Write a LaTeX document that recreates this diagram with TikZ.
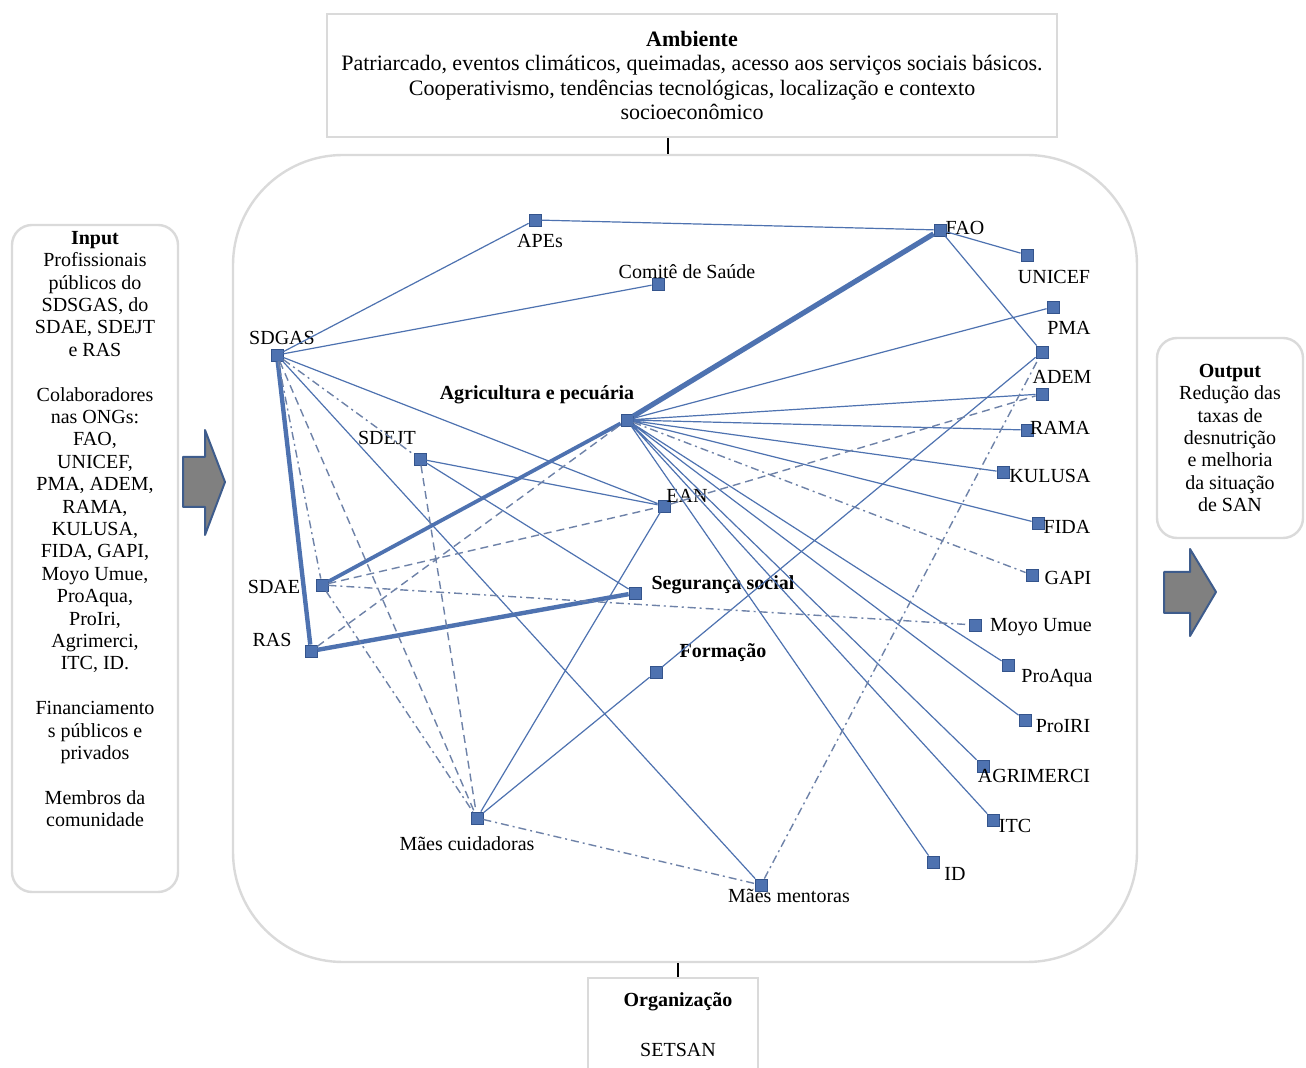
\documentclass[tikz,border=0pt]{standalone}
\usepackage{fontspec}
\setmainfont{Liberation Serif}
\definecolor{netblue}{RGB}{78,114,176}
\definecolor{netdark}{RGB}{52,84,140}
\definecolor{netgray}{RGB}{110,130,168}
\definecolor{boxgray}{RGB}{218,218,218}
\definecolor{arrowgray}{RGB}{128,128,128}
\definecolor{arrowblue}{RGB}{62,92,140}

\begin{document}
\begin{tikzpicture}[x=0.5pt,y=-0.5pt]
\tikzstyle{sq}=[rectangle,draw=netdark,fill=netblue,minimum size=6pt,inner sep=0pt]
\tikzstyle{lbl}=[font=\fontsize{10}{12}\selectfont,inner sep=0pt]
\tikzstyle{blbl}=[font=\fontsize{10}{12}\selectfont\bfseries,inner sep=0pt]
\tikzstyle{netline}=[draw=netblue,line width=0.6pt]
\tikzstyle{fatline}=[draw=netblue,line width=2.2pt]
\tikzstyle{dashline}=[draw=netgray,line width=0.7pt,dash pattern=on 4pt off 2.5pt]
\tikzstyle{dotline}=[draw=netgray,line width=0.7pt,dash pattern=on 4pt off 2pt on 1pt off 2pt]
\tikzstyle{softbox}=[draw=boxgray,line width=1.2pt,fill=white,rounded corners=10pt]
\tikzstyle{plainbox}=[draw=boxgray,line width=1.2pt,fill=white]
\tikzstyle{boxtext}=[font=\fontsize{10}{11.2}\selectfont,align=center,inner sep=0pt]
\tikzstyle{blockarrow}=[fill=arrowgray,draw=arrowblue,line width=1pt,line join=round]
\useasboundingbox (0,0) rectangle (1306,1068);

% frames
\node[softbox,rounded corners=55pt,minimum width=452pt,minimum height=403.5pt] (netbox) at (685,558.5) {};
\node[plainbox,minimum width=365pt,minimum height=61.5pt,align=center,font=\fontsize{11}{12.2}\selectfont] (amb) at (692,75.5)
  {\textbf{Ambiente}\\Patriarcado, eventos climáticos, queimadas, acesso aos serviços sociais básicos.\\Cooperativismo, tendências tecnológicas, localização e contexto\\socioeconômico};
\node[softbox,minimum width=83pt,minimum height=333.5pt] (inbox) at (95,558.5) {};
\node[boxtext,anchor=north] (intext) at ([yshift=-3.5pt]inbox.north)
  {\textbf{Input}\\Profissionais\\públicos do\\SDSGAS, do\\SDAE, SDEJT\\e RAS\\[11.2pt]
   Colaboradores\\nas ONGs:\\FAO,\\UNICEF,\\PMA, ADEM,\\RAMA,\\KULUSA,\\FIDA, GAPI,\\Moyo Umue,\\ProAqua,\\ProIri,\\Agrimerci,\\ITC, ID.\\[11.2pt]
   Financiamento\\s públicos e\\privados\\[11.2pt]Membros da\\comunidade};
\node[softbox,minimum width=73pt,minimum height=100pt,boxtext] (outbox) at (1230,438)
  {\textbf{Output}\\Redução das\\taxas de\\desnutrição\\e melhoria\\da situação\\de SAN};
\node[plainbox,minimum width=85pt,minimum height=51pt] (orgbox) at (673,1029) {};
\node[boxtext,font=\fontsize{10}{12.5}\selectfont] (orgtext) at (678,1025) {\textbf{Organização}\\[12.5pt]SETSAN};
\draw[black,line width=0.8pt] ([xshift=-12pt]amb.south) -- ([xshift=-12pt]amb.south |- netbox.north);
\draw[black,line width=0.8pt] ([xshift=2.5pt]orgbox.north) -- ([xshift=2.5pt]orgbox.north |- netbox.south);

% block arrows
\draw[blockarrow] (183,457) -- (205,457) -- (205,430) -- (225,482) -- (205,535) -- (205,507) -- (183,507) -- cycle;
\draw[blockarrow] (1164,572) -- (1190,572) -- (1190,549) -- (1216,592) -- (1190,636) -- (1190,613) -- (1164,613) -- cycle;

% actors
\node[sq] (sdgas) at (277,355) {};
\node[sq] (sdejt) at (420,459) {};
\node[sq] (agric) at (627,420) {};
\node[sq] (ean) at (664,506) {};
\node[sq] (sdae) at (322,585) {};
\node[sq] (segsoc) at (635,593) {};
\node[sq] (ras) at (311,651) {};
\node[sq] (form) at (656,672) {};
\node[sq] (mcuid) at (477,818) {};
\node[sq] (mment) at (761,885) {};
\node[sq] (apes) at (535,220) {};
\node[sq] (comite) at (658,284) {};
\node[sq] (fao) at (940,230) {};
\node[sq] (unicef) at (1027,255) {};
\node[sq] (pma) at (1053,307) {};
\node[sq] (adem) at (1042,352) {};
\node[sq] (xn) at (1042,394) {};
\node[sq] (rama) at (1027,430) {};
\node[sq] (kulusa) at (1003,472) {};
\node[sq] (fida) at (1038,523) {};
\node[sq] (gapi) at (1032,575) {};
\node[sq] (moyo) at (975,625) {};
\node[sq] (proaqua) at (1008,665) {};
\node[sq] (proiri) at (1025,720) {};
\node[sq] (agrim) at (983,766) {};
\node[sq] (itc) at (993,820) {};
\node[sq] (id) at (933,862) {};

% names
\node[lbl] (t-sdgas) at (282,338) {SDGAS};
\node[lbl] (t-sdejt) at (387,438) {SDEJT};
\node[blbl] (t-agric) at (537,395) {Agricultura e pecuária};
\node[lbl] (t-ean) at (687,496) {EAN};
\node[lbl] (t-sdae) at (274,587) {SDAE};
\node[blbl] (t-segsoc) at (723,585) {Segurança social};
\node[lbl] (t-ras) at (272,640) {RAS};
\node[blbl] (t-form) at (723,653) {Formação};
\node[lbl] (t-mcuid) at (467,844) {Mães cuidadoras};
\node[lbl] (t-mment) at (789,896) {Mães mentoras};
\node[lbl] (t-apes) at (540,241) {APEs};
\node[lbl] (t-comite) at (687,272) {Comitê de Saúde};
\node[lbl] (t-fao) at (965,228) {FAO};
\node[lbl] (t-unicef) at (1054,277) {UNICEF};
\node[lbl] (t-pma) at (1069,328) {PMA};
\node[lbl] (t-adem) at (1062,377) {ADEM};
\node[lbl] (t-rama) at (1060,428) {RAMA};
\node[lbl] (t-kulusa) at (1050,476) {KULUSA};
\node[lbl] (t-fida) at (1067,527) {FIDA};
\node[lbl] (t-gapi) at (1068,578) {GAPI};
\node[lbl] (t-moyo) at (1041,627) {Moyo Umue};
\node[lbl] (t-proaqua) at (1057,678) {ProAqua};
\node[lbl] (t-proiri) at (1063,726) {ProIRI};
\node[lbl] (t-agrim) at (1034,776) {AGRIMERCI};
\node[lbl] (t-itc) at (1015,826) {ITC};
\node[lbl] (t-id) at (955,874) {ID};

% ties
\draw[netline] (sdgas) -- (apes) (sdgas) -- (comite) (apes) -- (fao) (fao) -- (unicef) (fao) -- (adem)
  (sdgas) -- (ean) (sdgas) -- (mment) (sdejt) -- (ean) (sdejt) -- (segsoc)
  (ean) -- (mcuid) (form) -- (mcuid) (form) -- (adem);
\draw[netline] (agric) -- (pma) (agric) -- (xn) (agric) -- (rama) (agric) -- (kulusa) (agric) -- (fida)
  (agric) -- (proaqua) (agric) -- (proiri) (agric) -- (agrim) (agric) -- (itc) (agric) -- (id);
\draw[fatline] (sdgas) -- (ras) -- (segsoc);
\draw[fatline,line width=1.9pt] (sdae) -- (agric);
\draw[fatline,line width=2.6pt] (agric) -- (fao);
\draw[dashline] (sdgas) -- (mcuid) (sdejt) -- (mcuid) (sdae) -- (ean) (ras) -- (agric) (ean) -- (xn);
\draw[dotline] (sdgas) -- (sdejt) (sdgas) -- (sdae) (sdae) -- (moyo) (sdae) -- (mcuid)
  (agric) -- (gapi) (mcuid) -- (mment) (mment) -- (adem);
\end{tikzpicture}
\end{document}
